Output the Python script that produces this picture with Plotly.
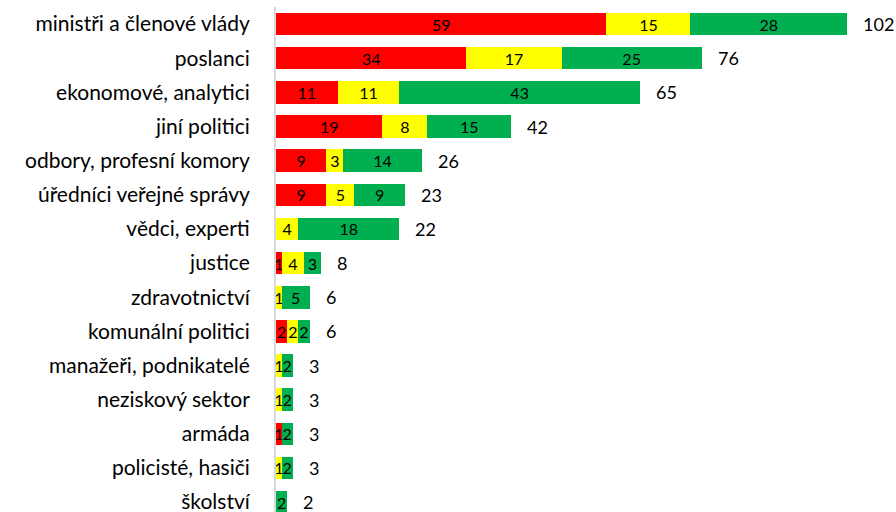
import plotly.graph_objects as go

categories = ["ministři a členové vlády", "poslanci", "ekonomové, analytici", "jiní politici",
              "odbory, profesní komory", "úředníci veřejné správy", "vědci, experti", "justice",
              "zdravotnictví", "komunální politici", "manažeři, podnikatelé", "neziskový sektor",
              "armáda", "policisté, hasiči", "školství"]
red_vals = [59, 34, 11, 19, 9, 9, 0, 1, 0, 2, 0, 0, 1, 0, 0]
yellow_vals = [15, 17, 11, 8, 3, 5, 4, 4, 1, 2, 1, 1, 0, 1, 0]
green_vals = [28, 25, 43, 15, 14, 9, 18, 3, 5, 2, 2, 2, 2, 2, 2]
totals = [r + y + g for r, y, g in zip(red_vals, yellow_vals, green_vals)]

FONT = "Lato"

def lbl(vals):
    return [str(v) if v else "" for v in vals]

fig = go.Figure()
for vals, color in [(red_vals, "#FF0000"), (yellow_vals, "#FFFF00"), (green_vals, "#00B050")]:
    fig.add_trace(go.Bar(
        y=categories, x=vals, orientation="h", marker=dict(color=color, line=dict(width=0)),
        text=lbl(vals), textposition="inside", insidetextanchor="middle",
        constraintext="none", textangle=0,
        textfont=dict(family=FONT, size=16, color="black"),
        width=0.66, hoverinfo="skip", cliponaxis=False,
    ))

for c, t in zip(categories, totals):
    fig.add_annotation(x=t, y=c, text=str(t), showarrow=False, xanchor="left",
                       xshift=14, font=dict(family=FONT, size=18, color="black"))

fig.update_layout(
    barmode="stack", showlegend=False, width=896, height=512,
    margin=dict(l=276, r=0, t=7, b=0),
    plot_bgcolor="white", paper_bgcolor="white",
    xaxis=dict(range=[0, 110.7], visible=False, fixedrange=True),
    yaxis=dict(range=[14.29, -0.5], categoryorder="array", categoryarray=categories,
               showline=True, linecolor="#D9D9D9", linewidth=2, showgrid=False,
               ticks="", ticklabelstandoff=20, fixedrange=True,
               tickfont=dict(family=FONT, size=21, color="black")),
)
fig.write_html("out.html", config={"displayModeBar": False, "staticPlot": True},
               post_script="document.body.style.margin='0';document.body.style.overflow='hidden';")
